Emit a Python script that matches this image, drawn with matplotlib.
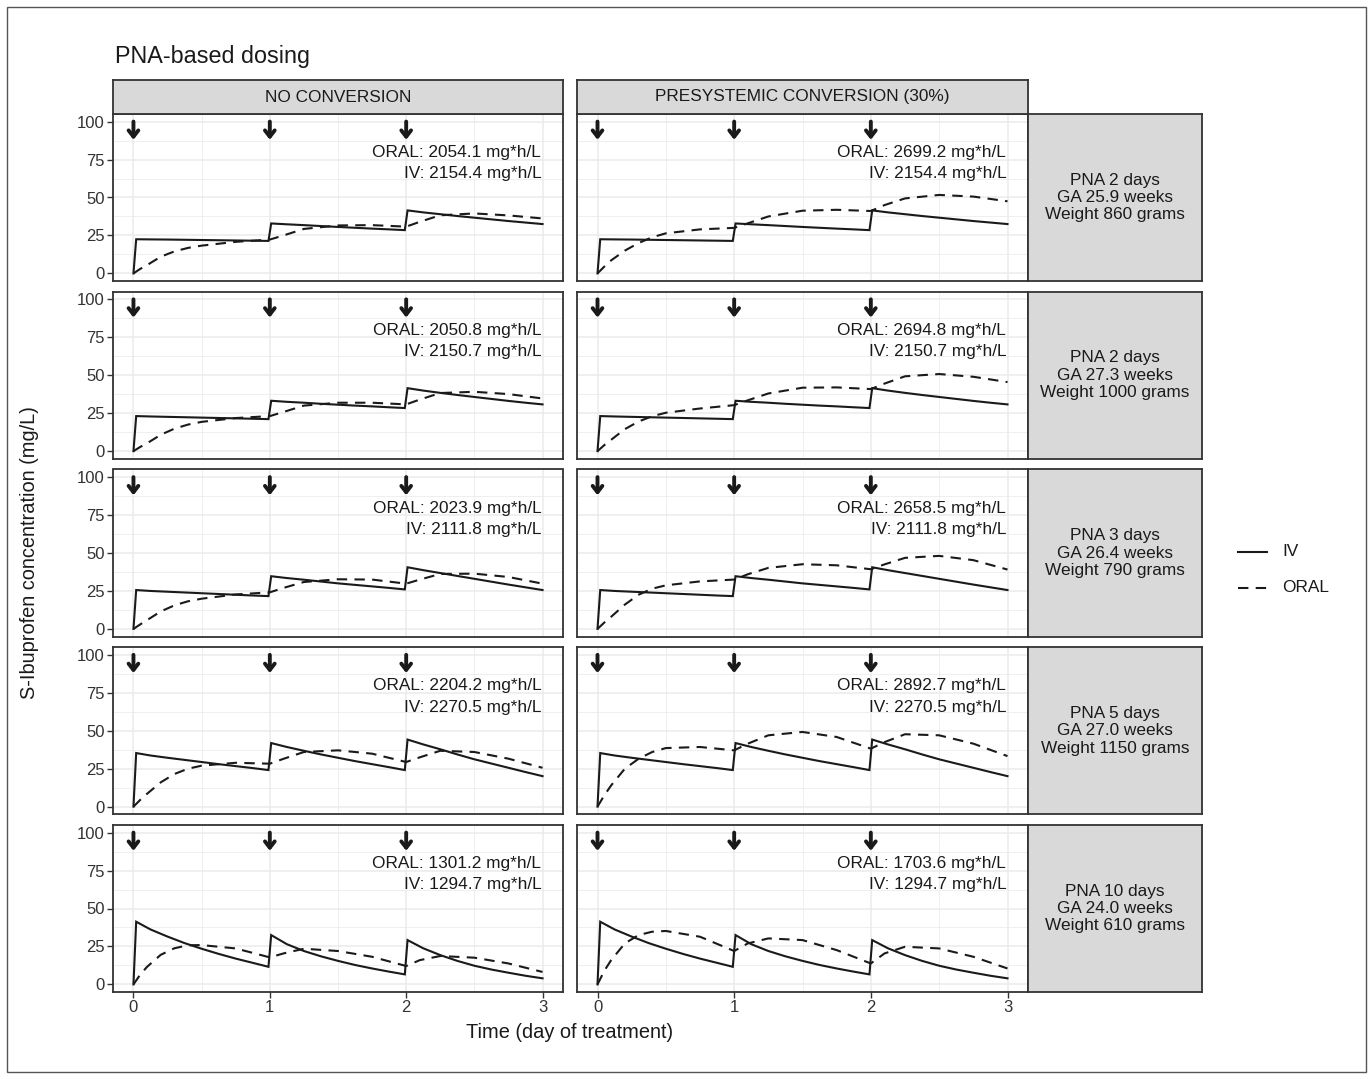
import matplotlib.pyplot as plt
from matplotlib.patches import Rectangle
from matplotlib.lines import Line2D

plt.rcParams['font.family'] = ['Liberation Sans', 'DejaVu Sans']

# data
columns = ["NO CONVERSION", "PRESYSTEMIC CONVERSION (30%)"]
rows = ["PNA 2 days\nGA 25.9 weeks\nWeight 860 grams",
        "PNA 2 days\nGA 27.3 weeks\nWeight 1000 grams",
        "PNA 3 days\nGA 26.4 weeks\nWeight 790 grams",
        "PNA 5 days\nGA 27.0 weeks\nWeight 1150 grams",
        "PNA 10 days\nGA 24.0 weeks\nWeight 610 grams"]

dose_times = [0, 1, 2]

iv_time = [0, 0.02, 0.125, 0.25, 0.375, 0.5, 0.625, 0.75, 0.875, 0.99,
           1.01, 1.125, 1.25, 1.375, 1.5, 1.625, 1.75, 1.875, 1.99,
           2.01, 2.125, 2.25, 2.375, 2.5, 2.625, 2.75, 2.875, 3.0]
iv_conc = [
    [0, 22.5, 22.4, 22.3, 22.15, 22.0, 21.85, 21.7, 21.55, 21.4,
     32.9, 32.35, 31.8, 31.2, 30.6, 30.05, 29.5, 29.0, 28.5,
     41.5, 40.2, 39.0, 37.8, 36.7, 35.6, 34.5, 33.5, 32.5],
    [0, 23.1, 22.85, 22.6, 22.35, 22.1, 21.85, 21.6, 21.35, 21.1,
     33.2, 32.5, 31.9, 31.2, 30.6, 30.0, 29.5, 28.9, 28.4,
     41.5, 39.9, 38.4, 37.0, 35.7, 34.4, 33.1, 31.9, 30.8],
    [0, 25.6, 25.0, 24.5, 24.0, 23.5, 23.0, 22.5, 22.0, 21.6,
     34.7, 33.5, 32.4, 31.2, 30.0, 29.0, 28.0, 27.0, 26.0,
     40.6, 38.7, 36.8, 34.9, 33.0, 31.1, 29.2, 27.4, 25.6],
    [0, 35.3, 33.7, 32.2, 30.8, 29.4, 28.0, 26.7, 25.4, 24.1,
     41.9, 39.3, 36.8, 34.4, 32.2, 30.0, 28.0, 26.0, 24.1,
     44.2, 41.0, 37.8, 34.4, 31.2, 28.4, 25.6, 22.8, 20.1],
    [0, 41.3, 36.2, 31.5, 27.2, 23.5, 20.1, 17.0, 14.2, 11.6,
     32.5, 26.5, 22.0, 18.5, 15.5, 12.8, 10.5, 8.4, 6.6,
     29.2, 23.8, 19.3, 15.5, 12.3, 9.8, 7.7, 5.7, 4.0],
]

oral_time = [0, 0.05, 0.1, 0.2, 0.3, 0.4, 0.5, 0.75, 1.0, 1.1, 1.25, 1.5, 1.75, 2.0, 2.1, 2.25, 2.5, 2.75, 3.0]
oral_no_conv = [
    [0, 3.0, 5.5, 11.0, 14.5, 16.8, 18.3, 20.8, 22.3, 25.0, 29.3, 31.6, 31.8, 30.8, 34.0, 38.3, 39.5, 38.2, 36.2],
    [0, 2.8, 5.2, 10.8, 14.8, 17.5, 19.3, 21.8, 23.1, 25.8, 30.0, 31.9, 31.9, 30.8, 34.0, 38.3, 39.1, 37.6, 34.7],
    [0, 3.0, 5.8, 11.5, 15.5, 18.2, 19.9, 22.7, 24.1, 27.0, 30.9, 32.7, 32.5, 29.8, 32.5, 36.2, 36.4, 34.2, 29.8],
    [0, 4.5, 8.5, 16.0, 21.5, 25.0, 27.0, 28.9, 28.3, 31.5, 36.0, 37.1, 34.9, 29.4, 32.5, 36.8, 36.0, 31.6, 25.6],
    [0, 6.5, 11.6, 19.5, 23.8, 25.8, 25.9, 23.7, 17.8, 20.4, 23.5, 22.0, 18.2, 12.1, 16.0, 18.7, 17.6, 13.8, 8.2],
]
oral_presys = [
    [0, 4.5, 8.6, 15.0, 20.0, 23.8, 26.4, 29.0, 30.0, 33.0, 37.5, 41.3, 41.9, 41.1, 45.0, 49.4, 51.7, 50.6, 47.5],
    [0, 4.0, 7.5, 14.5, 19.5, 23.0, 25.3, 28.1, 30.3, 33.5, 38.0, 41.8, 42.0, 40.9, 44.5, 49.3, 50.8, 49.0, 45.5],
    [0, 4.2, 8.0, 16.0, 22.5, 26.5, 28.7, 31.3, 32.5, 36.0, 40.2, 42.6, 41.9, 39.3, 42.5, 46.8, 48.1, 45.3, 39.1],
    [0, 7.5, 14.0, 25.0, 31.5, 36.0, 38.6, 39.3, 37.1, 41.5, 47.0, 49.2, 45.9, 38.2, 42.5, 47.7, 47.0, 41.5, 33.3],
    [0, 9.0, 16.0, 27.0, 32.5, 34.7, 35.2, 31.4, 22.0, 27.0, 30.3, 29.2, 22.6, 13.8, 20.4, 24.8, 23.7, 18.2, 10.5],
]

auc_oral = [["2054.1", "2699.2"], ["2050.8", "2694.8"], ["2023.9", "2658.5"],
            ["2204.2", "2892.7"], ["1301.2", "1703.6"]]
auc_iv = ["2154.4", "2150.7", "2111.8", "2270.5", "1294.7"]

W, H = 1371, 1079
fig = plt.figure(figsize=(W / 100, H / 100), dpi=100)


def px_rect(x0, y0, x1, y1):
    return [x0 / W, 1 - y1 / H, (x1 - x0) / W, (y1 - y0) / H]


dark = '#1a1a1a'
edge = '#333333'
strip_fill = '#d9d9d9'
col_x = [(113, 563), (577, 1028)]
row_y = [(114 + i * 177.75, 281 + i * 177.75) for i in range(5)]

for i in range(5):
    for j in range(2):
        ax = fig.add_axes(px_rect(col_x[j][0], row_y[i][0], col_x[j][1], row_y[i][1]))
        ax.set_xlim(-0.15, 3.15)
        ax.set_ylim(-5, 105)
        ax.set_xticks([0, 1, 2, 3])
        ax.set_xticks([0.5, 1.5, 2.5], minor=True)
        ax.set_yticks([0, 25, 50, 75, 100])
        ax.set_yticks([12.5, 37.5, 62.5, 87.5], minor=True)
        ax.grid(True, which='major', color='#ebebeb', lw=1.1)
        ax.grid(True, which='minor', color='#ebebeb', lw=0.55)
        ax.set_axisbelow(True)
        ax.tick_params(which='minor', length=0)
        ax.tick_params(which='major', length=4, width=1, color=edge,
                       labelsize=12, labelcolor='#333333', pad=2)
        for s in ax.spines.values():
            s.set_color(edge)
            s.set_linewidth(1.3)
        if j != 0:
            ax.tick_params(axis='y', labelleft=False, length=0)
        if i != 4:
            ax.tick_params(axis='x', labelbottom=False, length=0)

        oral = oral_no_conv[i] if j == 0 else oral_presys[i]
        ax.plot(iv_time, iv_conc[i], color=dark, lw=1.5, solid_joinstyle='miter')
        ax.plot(oral_time, oral, color=dark, lw=1.5, ls=(0, (5, 3.5)))

        for t in dose_times:
            ax.annotate('', xy=(t, 88), xytext=(t, 100),
                        arrowprops=dict(arrowstyle='->,head_length=0.45,head_width=0.35',
                                        lw=2.8, color=dark, shrinkA=0, shrinkB=0))

        ax.text(2.99, 79.5, "ORAL: " + auc_oral[i][j] + " mg*h/L", ha='right', va='center',
                fontsize=12.4, color=dark)
        ax.text(2.99, 65.5, "IV: " + auc_iv[i] + " mg*h/L", ha='right', va='center',
                fontsize=12.4, color=dark)

    # right strip
    sax = fig.add_axes(px_rect(1028, row_y[i][0], 1202, row_y[i][1]))
    sax.set_facecolor(strip_fill)
    sax.set_xticks([])
    sax.set_yticks([])
    for s in sax.spines.values():
        s.set_color(edge)
        s.set_linewidth(1.3)
    sax.text(0.5, 0.5, rows[i], ha='center', va='center', fontsize=12.4, color=dark,
             linespacing=1.2, transform=sax.transAxes)

# top strips
for j in range(2):
    sax = fig.add_axes(px_rect(col_x[j][0], 80, col_x[j][1], 114))
    sax.set_facecolor(strip_fill)
    sax.set_xticks([])
    sax.set_yticks([])
    for s in sax.spines.values():
        s.set_color(edge)
        s.set_linewidth(1.3)
    sax.text(0.5, 0.5, columns[j], ha='center', va='center', fontsize=12.4, color=dark,
             transform=sax.transAxes)

fig.text(115 / W, 1 - 63 / H, "PNA-based dosing", fontsize=16.8, color=dark, va='baseline')
fig.text(570 / W, 1 - 1038 / H, "Time (day of treatment)", fontsize=14.4, color=dark,
         ha='center', va='baseline')
fig.text(30 / W, 1 - 553 / H, "S-Ibuprofen concentration (mg/L)", fontsize=14.4, color=dark,
         rotation=90, ha='center', va='center')

# legend
fig.add_artist(Line2D([1238 / W, 1267 / W], [1 - 552 / H, 1 - 552 / H], color=dark, lw=1.5))
fig.add_artist(Line2D([1238 / W, 1267 / W], [1 - 588 / H, 1 - 588 / H], color=dark, lw=1.5,
                      ls=(0, (5, 3.5))))
fig.text(1282 / W, 1 - 552 / H, "IV", fontsize=12.4, color=dark, va='center')
fig.text(1282 / W, 1 - 588 / H, "ORAL", fontsize=12.4, color=dark, va='center')

# outer frame
fig.add_artist(Rectangle((7 / W, 1 - 1072 / H), 1359 / W, 1065 / H, fill=False,
                         edgecolor='#555555', lw=1, transform=fig.transFigure))

fig.savefig('out.png', dpi=100)
